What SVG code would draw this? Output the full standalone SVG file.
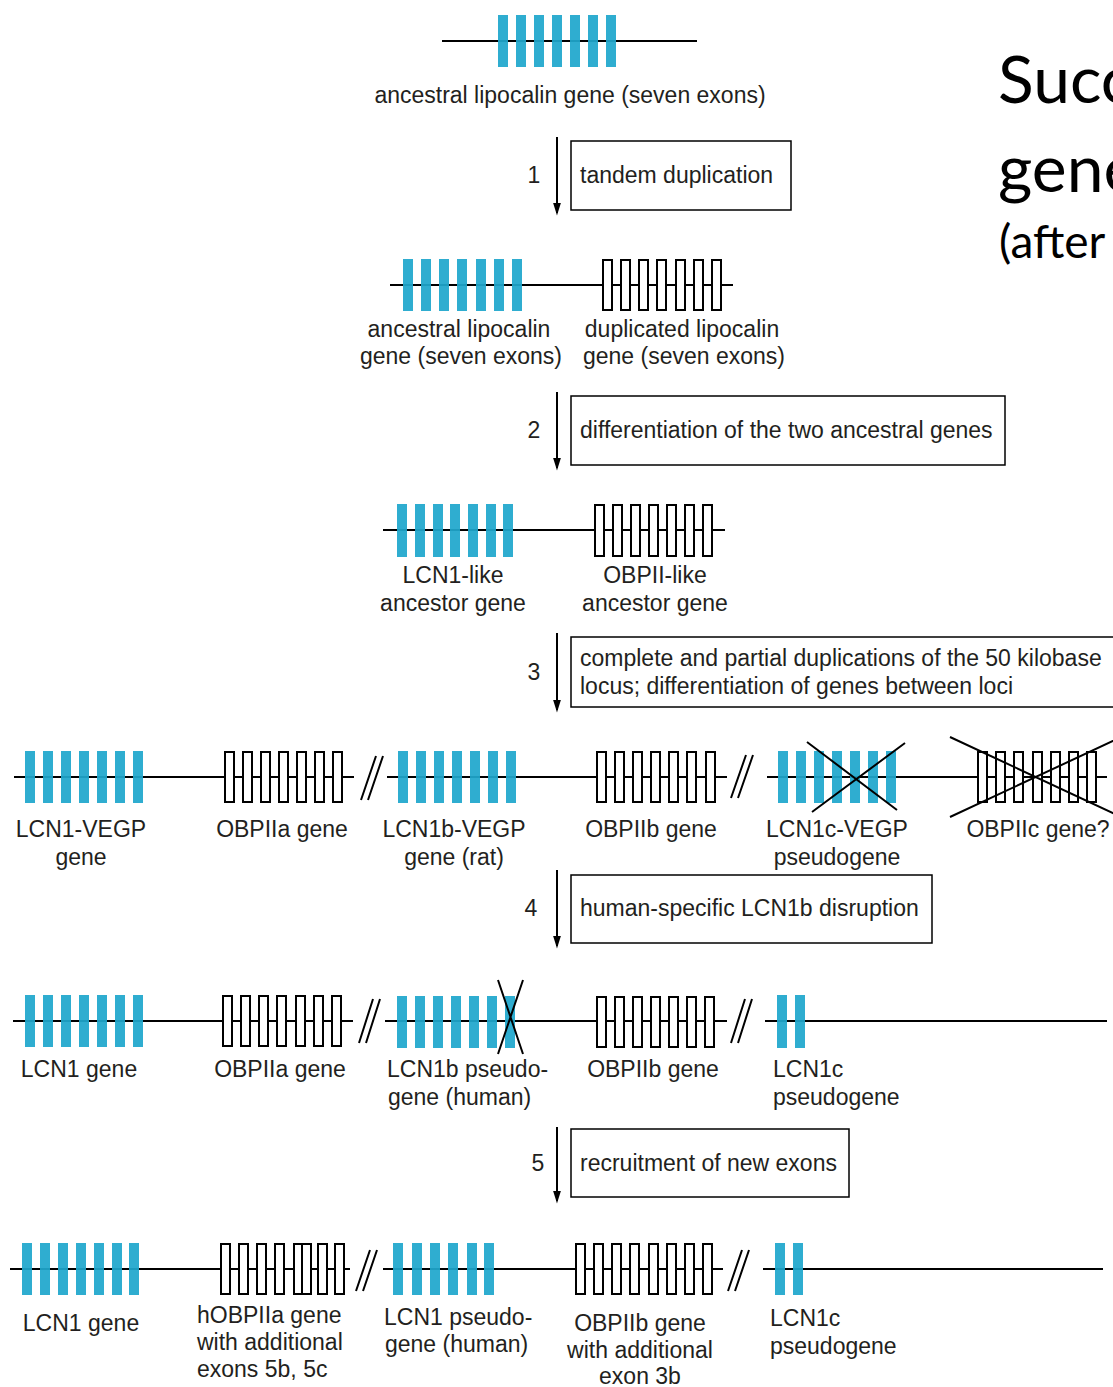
<svg xmlns="http://www.w3.org/2000/svg" width="1113" height="1387" viewBox="0 0 1113 1387">
<style>
.dna{stroke:#000;stroke-width:2;fill:none}
.b{fill:#1fa7cc;fill-opacity:0.93}
.w{fill:#fff;stroke:#000;stroke-width:2}
.x{stroke:#000;stroke-width:2;fill:none}
.t{font-family:"Liberation Sans",Arial,sans-serif;font-size:23px;fill:#231f20}
.m{text-anchor:middle}
.box{fill:#fff;stroke:#000;stroke-width:1.5}
.arr{stroke:#000;stroke-width:2;fill:none;marker-end:url(#ah)}
.title{font-family:Lato,"Liberation Sans",sans-serif;fill:#000}
</style>
<defs>
<marker id="ah" viewBox="0 0 10 10" refX="8" refY="5" markerWidth="13" markerHeight="8" markerUnits="userSpaceOnUse" orient="auto" preserveAspectRatio="none">
<path d="M0,0 L10,5 L0,10 z" fill="#000"/>
</marker>
</defs>
<rect width="1113" height="1387" fill="#fff"/>

<g id="title">
<text class="title" x="998" y="103" font-size="66">Succ</text>
<text class="title" x="998" y="192" font-size="66">gene</text>
<text class="title" x="999" y="258" font-size="46">(after</text>
</g>

<!-- Row 1 -->
<g id="gene-ancestral">
<line class="dna" x1="442" y1="41" x2="697" y2="41"/>
<rect class="b" x="498" y="15" width="10" height="52"/>
<rect class="b" x="516" y="15" width="10" height="52"/>
<rect class="b" x="534" y="15" width="10" height="52"/>
<rect class="b" x="552" y="15" width="10" height="52"/>
<rect class="b" x="570" y="15" width="10" height="52"/>
<rect class="b" x="588" y="15" width="10" height="52"/>
<rect class="b" x="606" y="15" width="10" height="52"/>
<text class="t m" x="570" y="103">ancestral lipocalin gene (seven exons)</text>
</g>

<g id="step1">
<text class="t m" x="534" y="183">1</text>
<rect class="box" x="571" y="141" width="220" height="69"/>
<text class="t" x="580" y="183">tandem duplication</text>
</g>

<!-- Row 2 -->
<g id="row2">
<line class="dna" x1="390" y1="285" x2="733" y2="285"/>
<g id="gene-ancestral-2">
<rect class="b" x="403" y="259" width="10" height="52"/>
<rect class="b" x="421" y="259" width="10" height="52"/>
<rect class="b" x="439" y="259" width="10" height="52"/>
<rect class="b" x="457" y="259" width="10" height="52"/>
<rect class="b" x="476" y="259" width="10" height="52"/>
<rect class="b" x="494" y="259" width="10" height="52"/>
<rect class="b" x="512" y="259" width="10" height="52"/>
<text class="t m" x="459" y="337">ancestral lipocalin</text>
<text class="t m" x="461" y="364">gene (seven exons)</text>
</g>
<g id="gene-duplicated">
<rect class="w" x="603" y="260" width="9" height="50"/>
<rect class="w" x="621" y="260" width="9" height="50"/>
<rect class="w" x="639" y="260" width="9" height="50"/>
<rect class="w" x="657" y="260" width="9" height="50"/>
<rect class="w" x="676" y="260" width="9" height="50"/>
<rect class="w" x="694" y="260" width="9" height="50"/>
<rect class="w" x="712" y="260" width="9" height="50"/>
<text class="t m" x="682" y="337">duplicated lipocalin</text>
<text class="t m" x="684" y="364">gene (seven exons)</text>
</g>
</g>

<g id="step2">
<text class="t m" x="534" y="438">2</text>
<rect class="box" x="571" y="396" width="434" height="69"/>
<text class="t" x="580" y="438">differentiation of the two ancestral genes</text>
</g>

<!-- Row 3 -->
<g id="row3">
<line class="dna" x1="383" y1="530" x2="725" y2="530"/>
<g id="gene-lcn1-like">
<rect class="b" x="397" y="504" width="10" height="53"/>
<rect class="b" x="415" y="504" width="10" height="53"/>
<rect class="b" x="433" y="504" width="10" height="53"/>
<rect class="b" x="450" y="504" width="10" height="53"/>
<rect class="b" x="468" y="504" width="10" height="53"/>
<rect class="b" x="486" y="504" width="10" height="53"/>
<rect class="b" x="503" y="504" width="10" height="53"/>
<text class="t m" x="453" y="583">LCN1-like</text>
<text class="t m" x="453" y="611">ancestor gene</text>
</g>
<g id="gene-obpii-like">
<rect class="w" x="595" y="505" width="9" height="51"/>
<rect class="w" x="613" y="505" width="9" height="51"/>
<rect class="w" x="631" y="505" width="9" height="51"/>
<rect class="w" x="649" y="505" width="9" height="51"/>
<rect class="w" x="667" y="505" width="9" height="51"/>
<rect class="w" x="685" y="505" width="9" height="51"/>
<rect class="w" x="703" y="505" width="9" height="51"/>
<text class="t m" x="655" y="583">OBPII-like</text>
<text class="t m" x="655" y="611">ancestor gene</text>
</g>
</g>

<g id="step3">
<text class="t m" x="534" y="680">3</text>
<rect class="box" x="571" y="637" width="560" height="70"/>
<text class="t" x="580" y="666">complete and partial duplications of the 50 kilobase</text>
<text class="t" x="580" y="694">locus; differentiation of genes between loci</text>
</g>

<!-- Row 4 -->
<g id="row4">
<line class="dna" x1="14" y1="777" x2="354" y2="777"/>
<line class="dna" x1="387" y1="777" x2="727" y2="777"/>
<line class="dna" x1="767" y1="777" x2="1107" y2="777"/>
<path class="x" d="M361,800 L376,756 M368,800 L383,756 M731,798 L746,755 M738,798 L753,755"/>
<g id="gene-lcn1-vegp">
<rect class="b" x="25" y="751" width="10" height="52"/>
<rect class="b" x="43" y="751" width="10" height="52"/>
<rect class="b" x="61" y="751" width="10" height="52"/>
<rect class="b" x="79" y="751" width="10" height="52"/>
<rect class="b" x="97" y="751" width="10" height="52"/>
<rect class="b" x="115" y="751" width="10" height="52"/>
<rect class="b" x="133" y="751" width="10" height="52"/>
<text class="t m" x="81" y="837">LCN1-VEGP</text>
<text class="t m" x="81" y="865">gene</text>
</g>
<g id="gene-obpiia">
<rect class="w" x="225" y="752" width="9" height="50"/>
<rect class="w" x="243" y="752" width="9" height="50"/>
<rect class="w" x="261" y="752" width="9" height="50"/>
<rect class="w" x="279" y="752" width="9" height="50"/>
<rect class="w" x="297" y="752" width="9" height="50"/>
<rect class="w" x="315" y="752" width="9" height="50"/>
<rect class="w" x="333" y="752" width="9" height="50"/>
<text class="t m" x="282" y="837">OBPIIa gene</text>
</g>
<g id="gene-lcn1b-vegp">
<rect class="b" x="398" y="751" width="10" height="52"/>
<rect class="b" x="416" y="751" width="10" height="52"/>
<rect class="b" x="434" y="751" width="10" height="52"/>
<rect class="b" x="452" y="751" width="10" height="52"/>
<rect class="b" x="470" y="751" width="10" height="52"/>
<rect class="b" x="488" y="751" width="10" height="52"/>
<rect class="b" x="506" y="751" width="10" height="52"/>
<text class="t m" x="454" y="837">LCN1b-VEGP</text>
<text class="t m" x="454" y="865">gene (rat)</text>
</g>
<g id="gene-obpiib">
<rect class="w" x="597" y="752" width="9" height="50"/>
<rect class="w" x="615" y="752" width="9" height="50"/>
<rect class="w" x="633" y="752" width="9" height="50"/>
<rect class="w" x="651" y="752" width="9" height="50"/>
<rect class="w" x="669" y="752" width="9" height="50"/>
<rect class="w" x="687" y="752" width="9" height="50"/>
<rect class="w" x="706" y="752" width="9" height="50"/>
<text class="t m" x="651" y="837">OBPIIb gene</text>
</g>
<g id="gene-lcn1c-vegp">
<rect class="b" x="778" y="751" width="10" height="52"/>
<rect class="b" x="796" y="751" width="10" height="52"/>
<rect class="b" x="814" y="751" width="10" height="52"/>
<rect class="b" x="832" y="751" width="10" height="52"/>
<rect class="b" x="850" y="751" width="10" height="52"/>
<rect class="b" x="868" y="751" width="10" height="52"/>
<rect class="b" x="886" y="751" width="10" height="52"/>
<path class="x" d="M807,742 L897,810 M905,743 L812,812"/>
<text class="t m" x="837" y="837">LCN1c-VEGP</text>
<text class="t m" x="837" y="865">pseudogene</text>
</g>
<g id="gene-obpiic">
<rect class="w" x="978" y="752" width="9" height="50"/>
<rect class="w" x="996" y="752" width="9" height="50"/>
<rect class="w" x="1014" y="752" width="9" height="50"/>
<rect class="w" x="1033" y="752" width="9" height="50"/>
<rect class="w" x="1051" y="752" width="9" height="50"/>
<rect class="w" x="1069" y="752" width="9" height="50"/>
<rect class="w" x="1087" y="752" width="9" height="50"/>
<path class="x" d="M950,737 L1130,821 M950,817 L1130,733"/>
<text class="t m" x="1038" y="837">OBPIIc gene?</text>
</g>
</g>

<g id="step4">
<text class="t m" x="531" y="916">4</text>
<rect class="box" x="571" y="875" width="361" height="68"/>
<text class="t" x="580" y="916">human-specific LCN1b disruption</text>
</g>

<!-- Row 5 -->
<g id="row5">
<line class="dna" x1="13" y1="1021" x2="353" y2="1021"/>
<line class="dna" x1="385" y1="1021" x2="727" y2="1021"/>
<line class="dna" x1="765" y1="1021" x2="1107" y2="1021"/>
<path class="x" d="M359,1043 L373,999 M366,1043 L380,999 M731,1043 L745,999 M738,1043 L752,999"/>
<g id="gene-lcn1">
<rect class="b" x="25" y="995" width="10" height="52"/>
<rect class="b" x="43" y="995" width="10" height="52"/>
<rect class="b" x="61" y="995" width="10" height="52"/>
<rect class="b" x="79" y="995" width="10" height="52"/>
<rect class="b" x="97" y="995" width="10" height="52"/>
<rect class="b" x="115" y="995" width="10" height="52"/>
<rect class="b" x="133" y="995" width="10" height="52"/>
<text class="t m" x="79" y="1077">LCN1 gene</text>
</g>
<g id="gene-obpiia-2">
<rect class="w" x="223" y="996" width="9" height="50"/>
<rect class="w" x="241" y="996" width="9" height="50"/>
<rect class="w" x="259" y="996" width="9" height="50"/>
<rect class="w" x="277" y="996" width="9" height="50"/>
<rect class="w" x="296" y="996" width="9" height="50"/>
<rect class="w" x="314" y="996" width="9" height="50"/>
<rect class="w" x="332" y="996" width="9" height="50"/>
<text class="t m" x="280" y="1077">OBPIIa gene</text>
</g>
<g id="gene-lcn1b-pseudo">
<rect class="b" x="397" y="996" width="10" height="52"/>
<rect class="b" x="415" y="996" width="10" height="52"/>
<rect class="b" x="433" y="996" width="10" height="52"/>
<rect class="b" x="451" y="996" width="10" height="52"/>
<rect class="b" x="469" y="996" width="10" height="52"/>
<rect class="b" x="487" y="996" width="10" height="52"/>
<rect class="b" x="505" y="996" width="10" height="52"/>
<path class="x" d="M498,980 L523,1054 M523,980 L498,1054"/>
<text class="t" x="387" y="1077">LCN1b pseudo-</text>
<text class="t" x="388" y="1105">gene (human)</text>
</g>
<g id="gene-obpiib-2">
<rect class="w" x="597" y="997" width="9" height="50"/>
<rect class="w" x="615" y="997" width="9" height="50"/>
<rect class="w" x="633" y="997" width="9" height="50"/>
<rect class="w" x="651" y="997" width="9" height="50"/>
<rect class="w" x="669" y="997" width="9" height="50"/>
<rect class="w" x="687" y="997" width="9" height="50"/>
<rect class="w" x="705" y="997" width="9" height="50"/>
<text class="t m" x="653" y="1077">OBPIIb gene</text>
</g>
<g id="gene-lcn1c">
<rect class="b" x="777" y="995" width="10" height="53"/>
<rect class="b" x="795" y="995" width="10" height="53"/>
<text class="t" x="773" y="1077">LCN1c</text>
<text class="t" x="773" y="1105">pseudogene</text>
</g>
</g>

<g id="step5">
<text class="t m" x="538" y="1171">5</text>
<rect class="box" x="571" y="1129" width="278" height="68"/>
<text class="t" x="580" y="1171">recruitment of new exons</text>
</g>

<!-- Row 6 -->
<g id="row6">
<line class="dna" x1="10" y1="1269" x2="350" y2="1269"/>
<line class="dna" x1="383" y1="1269" x2="723" y2="1269"/>
<line class="dna" x1="763" y1="1269" x2="1103" y2="1269"/>
<path class="x" d="M356,1291 L370,1250 M363,1291 L377,1250 M728,1291 L742,1250 M735,1291 L749,1250"/>
<g id="gene-lcn1-2">
<rect class="b" x="22" y="1243" width="10" height="52"/>
<rect class="b" x="40" y="1243" width="10" height="52"/>
<rect class="b" x="58" y="1243" width="10" height="52"/>
<rect class="b" x="76" y="1243" width="10" height="52"/>
<rect class="b" x="94" y="1243" width="10" height="52"/>
<rect class="b" x="112" y="1243" width="10" height="52"/>
<rect class="b" x="129" y="1243" width="10" height="52"/>
<text class="t m" x="81" y="1331">LCN1 gene</text>
</g>
<g id="gene-hobpiia">
<rect class="w" x="221" y="1244" width="9" height="50"/>
<rect class="w" x="239" y="1244" width="9" height="50"/>
<rect class="w" x="257" y="1244" width="9" height="50"/>
<rect class="w" x="275" y="1244" width="9" height="50"/>
<rect class="w" x="294" y="1244" width="9" height="50"/>
<rect class="w" x="302" y="1244" width="9" height="50"/>
<rect class="w" x="318" y="1244" width="9" height="50"/>
<rect class="w" x="335" y="1244" width="9" height="50"/>
<text class="t" x="197" y="1323">hOBPIIa gene</text>
<text class="t" x="197" y="1350">with additional</text>
<text class="t" x="197" y="1377">exons 5b, 5c</text>
</g>
<g id="gene-lcn1-pseudo">
<rect class="b" x="393" y="1243" width="10" height="52"/>
<rect class="b" x="412" y="1243" width="10" height="52"/>
<rect class="b" x="430" y="1243" width="10" height="52"/>
<rect class="b" x="448" y="1243" width="10" height="52"/>
<rect class="b" x="467" y="1243" width="10" height="52"/>
<rect class="b" x="484" y="1243" width="10" height="52"/>
<text class="t" x="384" y="1325">LCN1 pseudo-</text>
<text class="t" x="385" y="1352">gene (human)</text>
</g>
<g id="gene-obpiib-3b">
<rect class="w" x="576" y="1244" width="9" height="50"/>
<rect class="w" x="594" y="1244" width="9" height="50"/>
<rect class="w" x="612" y="1244" width="9" height="50"/>
<rect class="w" x="630" y="1244" width="9" height="50"/>
<rect class="w" x="649" y="1244" width="9" height="50"/>
<rect class="w" x="667" y="1244" width="9" height="50"/>
<rect class="w" x="685" y="1244" width="9" height="50"/>
<rect class="w" x="703" y="1244" width="9" height="50"/>
<text class="t m" x="640" y="1331">OBPIIb gene</text>
<text class="t m" x="640" y="1358">with additional</text>
<text class="t m" x="640" y="1384">exon 3b</text>
</g>
<g id="gene-lcn1c-2">
<rect class="b" x="775" y="1243" width="10" height="52"/>
<rect class="b" x="793" y="1243" width="10" height="52"/>
<text class="t" x="770" y="1326">LCN1c</text>
<text class="t" x="770" y="1354">pseudogene</text>
</g>
</g>

<g id="connectors">
<line class="arr" x1="557" y1="137" x2="557" y2="213"/>
<line class="arr" x1="557" y1="392" x2="557" y2="468"/>
<line class="arr" x1="557" y1="633" x2="557" y2="710"/>
<line class="arr" x1="557" y1="870" x2="557" y2="946"/>
<line class="arr" x1="557" y1="1127" x2="557" y2="1201"/>
</g>
</svg>
